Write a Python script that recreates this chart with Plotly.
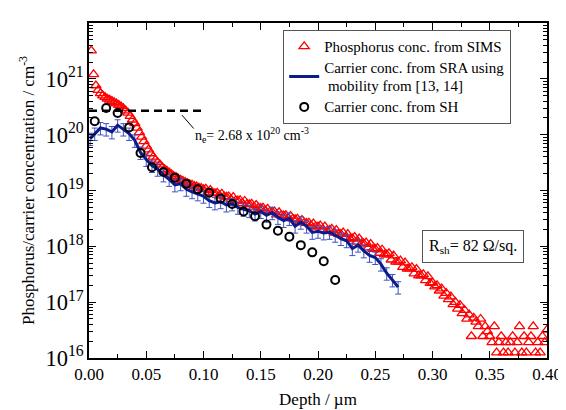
import plotly.graph_objects as go

# ---------------- data ----------------
# SIMS phosphorus concentration (cm^-3), depth step 0.002 um from 0.002 to 0.400
sims_depth = [round(0.002 * (i + 1), 3) for i in range(200)]
sims_conc = [
    3.2e21, 1.2e21, 7.6e20, 6.3e20, 5.5e20, 5.0e20, 4.7e20, 4.4e20, 4.2e20, 4.0e20,
    3.8e20, 3.6e20, 3.4e20, 3.2e20, 2.95e20, 2.7e20, 2.45e20, 2.15e20, 1.85e20, 1.6e20,
    1.32e20, 1.1e20, 9.1e19, 7.6e19, 6.3e19, 5.4e19, 4.6e19, 4.0e19, 3.55e19, 3.2e19,
    2.9e19, 2.6e19, 2.4e19, 2.25e19, 2.1e19, 1.95e19, 1.82e19, 1.74e19, 1.62e19, 1.55e19,
    1.48e19, 1.41e19, 1.35e19, 1.29e19, 1.26e19, 1.2e19, 1.17e19, 1.12e19, 1.1e19, 1.05e19,
    1.07e19, 9.3e18, 1.02e19, 9.1e18, 8.9e18, 9.1e18, 8.1e18, 8.7e18, 7.8e18, 7.7e18,
    7.8e18, 6.9e18, 7.6e18, 6.6e18, 6.6e18, 6.7e18, 5.9e18, 6.5e18, 5.7e18, 5.65e18,
    5.75e18, 5.1e18, 5.5e18, 4.9e18, 4.85e18, 4.9e18, 4.35e18, 4.7e18, 4.2e18, 4.15e18,
    4.2e18, 3.7e18, 4.05e18, 3.6e18, 3.55e18, 3.6e18, 3.2e18, 3.5e18, 3.1e18, 3.05e18,
    3.1e18, 2.75e18, 2.95e18, 2.65e18, 2.6e18, 2.65e18, 2.35e18, 2.55e18, 2.25e18, 2.25e18,
    2.35e18, 2.0e18, 2.25e18, 1.9e18, 1.95e18, 2.05e18, 1.74e18, 1.95e18, 1.66e18, 1.66e18,
    1.76e18, 1.45e18, 1.66e18, 1.36e18, 1.38e18, 1.46e18, 1.2e18, 1.38e18, 1.12e18, 1.12e18,
    1.17e18, 9.5e17, 1.1e18, 8.9e17, 8.9e17, 9.3e17, 7.6e17, 8.7e17, 7.1e17, 7.1e17,
    7.5e17, 5.75e17, 6.8e17, 5.25e17, 5.25e17, 5.55e17, 4.25e17, 5.1e17, 3.95e17, 4.0e17,
    4.2e17, 3.25e17, 3.9e17, 3.0e17, 3.0e17, 3.15e17, 2.45e17, 2.9e17, 2.2e17, 2.25e17,
    1.9e17, 2.0e17, 1.6e17, 1.75e17, 1.3e17, 1.45e17, 1.12e17, 1.26e17, 9.1e16, 1.0e17,
    7.6e16, 8.9e16, 6.3e16, 7.2e16, 5.0e16, 6.0e16, 2.45e16, 5.25e16, 4.45e16, 3.7e16,
    5.0e16, 2.45e16, 3.7e16, 3.0e16, 2.45e16, 1.9e16, 3.7e16, 1.25e16, 1.9e16, 2.45e16,
    1.25e16, 1.9e16, 1.25e16, 1.9e16, 2.45e16, 1.25e16, 1.9e16, 3.7e16, 1.25e16, 2.45e16,
    1.25e16, 1.9e16, 2.45e16, 3.7e16, 1.25e16, 1.9e16, 1.25e16, 2.45e16, 1.9e16, 3.2e16,
]

# SRA carrier concentration (cm^-3)
sra_depth = [0.001, 0.005, 0.010, 0.015, 0.020, 0.025, 0.030, 0.035, 0.040, 0.045,
             0.050, 0.055, 0.060, 0.065, 0.070, 0.075, 0.080, 0.085, 0.090, 0.095,
             0.100, 0.105, 0.110, 0.115, 0.120, 0.125, 0.130, 0.135, 0.140, 0.145,
             0.150, 0.155, 0.160, 0.165, 0.170, 0.175, 0.180, 0.185, 0.190, 0.195,
             0.200, 0.205, 0.210, 0.215, 0.220, 0.225, 0.230, 0.235, 0.240, 0.245,
             0.250, 0.255, 0.260, 0.265, 0.270]
sra_conc = [8.5e19, 1.05e20, 1.32e20, 1.26e20, 1.12e20, 1.48e20, 1.26e20, 1.05e20, 7.9e19, 4.8e19,
            3.6e19, 2.8e19, 2.4e19, 1.9e19, 1.58e19, 1.26e19, 1.32e19, 1.05e19, 9.5e18, 8.7e18,
            7.9e18, 6.6e18, 6.0e18, 6.3e18, 5.5e18, 5.75e18, 5.0e18, 4.6e18, 4.35e18, 3.8e18,
            4.2e18, 3.6e18, 4.0e18, 3.3e18, 2.9e18, 3.15e18, 2.3e18, 2.7e18, 2.3e18, 1.78e18,
            1.86e18, 1.74e18, 1.78e18, 1.58e18, 1.38e18, 1.26e18, 9.1e17, 1.05e18, 8.3e17, 6.9e17,
            6.3e17, 4.8e17, 3.3e17, 2.5e17, 1.86e17]
sra_error_percent = 25

# Spreading-Hall (SH) carrier concentration (cm^-3)
sh_depth = [0.005, 0.015, 0.025, 0.035, 0.045, 0.055, 0.065, 0.075, 0.085, 0.095,
            0.105, 0.115, 0.125, 0.135, 0.145, 0.155, 0.165, 0.175, 0.185, 0.195,
            0.205, 0.215]
sh_conc = [1.74e20, 3.0e20, 2.45e20, 1.35e20, 4.7e19, 2.6e19, 2.15e19, 1.7e19, 1.32e19, 1.05e19,
           9.1e18, 7.2e18, 5.75e18, 4.2e18, 3.45e18, 2.45e18, 1.9e18, 1.48e18, 1.05e18, 7.8e17,
           5.4e17, 2.5e17]

# Reference electron concentration line
ne_value = 2.68e20
ne_depth = [0.0, 0.1]

series_names = ["Phosphorus conc. from SIMS",
                "Carrier conc. from SRA using<br> mobility from [13, 14]",
                "Carrier conc. from SH"]

FONT = "Liberation Serif, Times New Roman, serif"


def legend_label(s):
    # slightly larger glyphs than the legend's base font (which sets line spacing)
    return "<br>".join('<span style="font-size:15px">' + part + "</span>" for part in s.split("<br>"))


fig = go.Figure()

fig.add_trace(go.Scatter(
    x=sims_depth, y=sims_conc, mode="markers",
    name=legend_label(series_names[0]),
    marker=dict(symbol="triangle-up-open", size=9, color="#ff0000", line=dict(width=1.3, color="#ff0000")),
))
fig.add_trace(go.Scatter(
    x=sra_depth, y=sra_conc, mode="markers", showlegend=False, hoverinfo="skip",
    marker=dict(size=1, color="rgba(0,0,0,0)"),
    error_y=dict(type="percent", value=sra_error_percent, color="#3f52c4", thickness=1, width=3),
))
fig.add_trace(go.Scatter(
    x=sra_depth, y=sra_conc, mode="lines",
    name=legend_label(series_names[1]),
    line=dict(color="#0d1a8a", width=3),
))
fig.add_trace(go.Scatter(
    x=sh_depth, y=sh_conc, mode="markers",
    name=legend_label(series_names[2]),
    marker=dict(symbol="circle-open", size=8, color="black", line=dict(width=2, color="black")),
))
fig.add_trace(go.Scatter(
    x=ne_depth, y=[ne_value, ne_value], mode="lines", showlegend=False, hoverinfo="skip",
    line=dict(color="black", width=2.5, dash="8px,5px"),
))

fig.update_layout(
    width=566, height=410,
    margin=dict(l=81, r=23, t=15, b=56),
    paper_bgcolor="white", plot_bgcolor="white",
    font=dict(family=FONT, size=15, color="black"),
    showlegend=True,
    legend=dict(
        x=0.424, y=0.98, xanchor="left", yanchor="top",
        bordercolor="#555555", borderwidth=1, bgcolor="white",
        font=dict(family=FONT, size=14, color="black"),
        tracegroupgap=0, itemwidth=30,
    ),
)

fig.update_xaxes(
    range=[0, 0.4], dtick=0.05, tick0=0, tickformat=".2f",
    ticks="inside", ticklen=7, tickwidth=1.2, tickcolor="black",
    minor=dict(ticks="inside", dtick=0.025, ticklen=4, tickcolor="black", showgrid=False),
    showline=True, linecolor="black", linewidth=1.5, mirror="ticks",
    showgrid=False, zeroline=False,
    tickfont=dict(family=FONT, size=17),
    title=dict(text="Depth / µm", font=dict(family=FONT, size=17), standoff=10),
)
fig.update_yaxes(
    type="log", range=[16, 22], dtick=1, exponentformat="power",
    ticks="inside", ticklen=7, tickwidth=1.2, tickcolor="black",
    minor=dict(ticks="inside", dtick="D1", ticklen=4, tickcolor="black", showgrid=False),
    showline=True, linecolor="black", linewidth=1.5, mirror="ticks",
    showgrid=False, zeroline=False,
    tickfont=dict(family=FONT, size=18),
    title=dict(text="Phosphorus/carrier concentration / cm<sup>-3</sup>", font=dict(family=FONT, size=17), standoff=6),
)

# leader line and n_e label
fig.add_shape(type="line", xref="paper", yref="paper",
              x0=0.203, y0=0.725, x1=0.2286, y1=0.685,
              line=dict(color="black", width=1))
fig.add_annotation(
    xref="paper", yref="paper", x=0.227, y=0.665, xanchor="left", yanchor="middle",
    text="n<sub>e</sub>= 2.68 x 10<sup>20</sup> cm<sup>-3</sup>", showarrow=False,
    font=dict(family=FONT, size=14),
)
fig.add_annotation(
    xref="paper", yref="paper", x=0.839, y=0.333, xanchor="center", yanchor="middle",
    text="R<sub>sh</sub>= 82 Ω/sq.", showarrow=False,
    font=dict(family=FONT, size=16),
    bordercolor="#555555", borderwidth=1, borderpad=6, bgcolor="white",
)

fig.write_html("out.html")
